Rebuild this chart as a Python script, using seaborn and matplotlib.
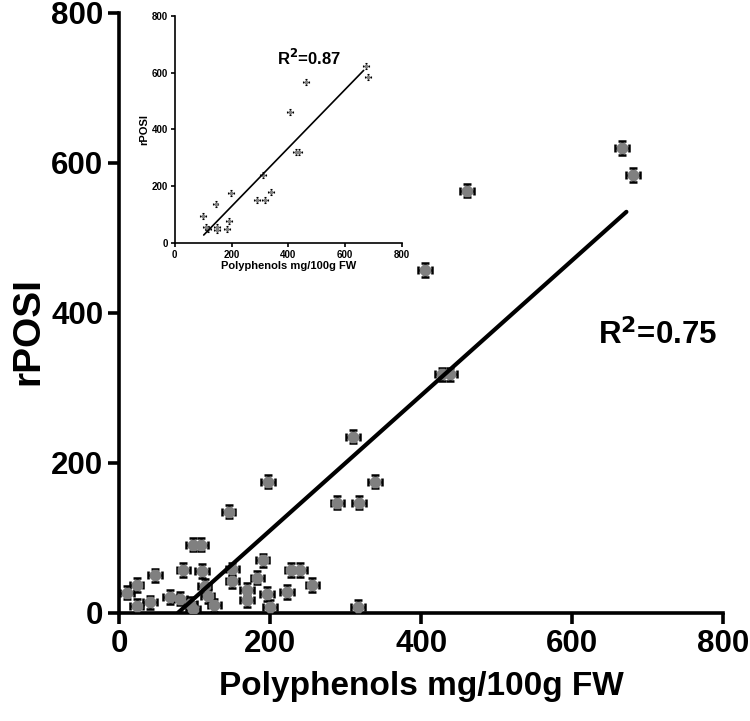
import numpy as np
import pandas as pd
import matplotlib.pyplot as plt
import seaborn as sns


# main panel: all samples
main_x = [666, 681, 461, 405, 428, 438, 310, 339, 289, 318,
          197, 145, 98, 108, 190, 85, 47, 23, 10, 23,
          41, 67, 81, 94, 110, 113, 117, 126, 98, 150,
          150, 169, 169, 183, 196, 200, 222, 228, 240, 256, 316]
main_y = [620, 584, 563, 457, 318, 318, 235, 175, 147, 147,
          175, 135, 91, 91, 70, 57, 50, 37, 27, 9,
          14, 21, 19, 12, 56, 36, 22, 10, 5, 58,
          42, 31, 17, 47, 25, 8, 28, 57, 57, 37, 8]

# inset: subset of samples
inset_x = [673, 680, 461, 405, 427, 437, 310, 338, 289, 317,
           197, 144, 99, 109, 116, 148, 148, 183, 190]
inset_y = [623, 585, 567, 461, 320, 320, 239, 179, 151, 151,
           176, 137, 95, 56, 49, 56, 45, 49, 77]

# fitted lines
main_fit_x = [78, 672]
main_slope, main_icpt = 0.9, -70
inset_fit_x = [102, 665]
inset_slope, inset_icpt = 1.03, -77

main_r2 = "0.75"
inset_r2 = "0.87"

GREY = "#808080"


def draw_points(ax, x, y, err, cap, msize, elw):
    ax.errorbar(x, y, xerr=err, yerr=err, fmt='none', ecolor='black',
                capsize=cap, elinewidth=elw, capthick=elw, zorder=2)
    sns.scatterplot(x=x, y=y, ax=ax, color=GREY, marker='8', s=msize,
                    edgecolor=GREY, linewidth=0, zorder=3, legend=False)


def style_axes(ax, lw, ticklen):
    for side in ['top', 'right']:
        ax.spines[side].set_visible(False)
    for side in ['left', 'bottom']:
        ax.spines[side].set_linewidth(lw)
        ax.spines[side].set_color('black')
    ax.tick_params(width=lw, length=ticklen, direction='out',
                   colors='black')


def main():
    sns.set_style("ticks")
    plt.rcParams['font.family'] = ['Liberation Sans', 'DejaVu Sans']
    plt.rcParams['font.weight'] = 'bold'
    plt.rcParams['text.color'] = 'black'
    plt.rcParams['axes.labelcolor'] = 'black'

    fig = plt.figure(figsize=(7.5, 7.21), dpi=100)
    ax = fig.add_axes([0.159, 0.150, 0.805, 0.832])

    draw_points(ax, main_x, main_y, err=9, cap=2.6, msize=80, elw=1.8)
    fx = np.array(main_fit_x)
    sns.lineplot(x=fx, y=main_slope * fx + main_icpt, ax=ax, color='black',
                 linewidth=3, zorder=4)
    ax.set_xlim(0, 800)
    ax.set_ylim(0, 800)
    ax.set_xticks([0, 200, 400, 600, 800])
    ax.set_yticks([0, 200, 400, 600, 800])
    style_axes(ax, 2.6, 8)
    for lab in ax.get_xticklabels() + ax.get_yticklabels():
        lab.set_fontsize(22.5)
        lab.set_fontweight('bold')
    ax.set_xlabel("Polyphenols mg/100g FW", fontsize=24, fontweight='bold',
                  labelpad=9)
    ax.set_ylabel("rPOSI", fontsize=28, fontweight='bold')
    ax.yaxis.set_label_coords(-0.12, 0.47)
    ax.text(634, 371, "R$^\\mathbf{2}$=" + main_r2, fontsize=22.5,
            fontweight='bold', va='center', ha='left')

    # inset
    ins = fig.add_axes([0.233, 0.663, 0.303, 0.315])
    draw_points(ins, inset_x, inset_y, err=10, cap=1.0, msize=10, elw=0.8)
    ix = np.array(inset_fit_x)
    sns.lineplot(x=ix, y=inset_slope * ix + inset_icpt, ax=ins,
                 color='black', linewidth=1.2, zorder=4)
    ins.set_xlim(0, 800)
    ins.set_ylim(0, 800)
    ins.set_xticks([0, 200, 400, 600, 800])
    ins.set_yticks([0, 200, 400, 600, 800])
    style_axes(ins, 1.2, 3)
    ins.tick_params(labelsize=7, pad=2)
    ins.set_xlabel("Polyphenols mg/100g FW", fontsize=8, fontweight='bold',
                   labelpad=1)
    ins.set_ylabel("rPOSI", fontsize=8, fontweight='bold', labelpad=2)
    ins.text(359, 651, "R$^\\mathbf{2}$=" + inset_r2, fontsize=12,
             fontweight='bold', va='center', ha='left')

    plt.savefig("out.png", dpi=100)
    plt.close()


if __name__ == "__main__":
    main()
